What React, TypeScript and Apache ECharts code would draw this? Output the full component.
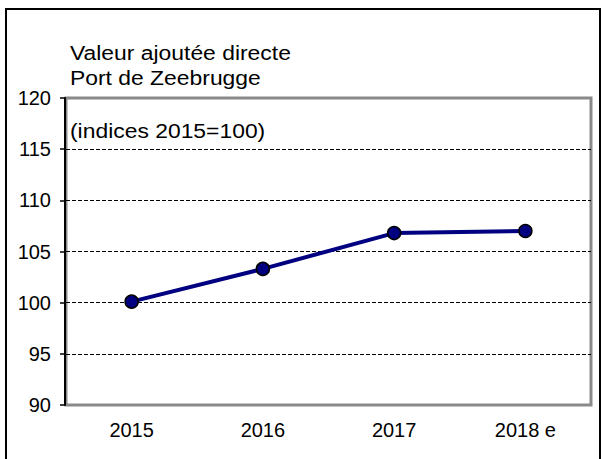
import React, { useEffect, useRef } from "react";
import * as echarts from "echarts";

const categories = ["2015", "2016", "2017", "2018 e"];
const values = [100.1, 103.3, 106.8, 107.0];
const titleLines = ["Valeur ajoutée directe", "Port de Zeebrugge"];
const subtitle = "(indices 2015=100)";

export default function App() {
  const ref = useRef<HTMLDivElement>(null);
  useEffect(() => {
    if (!ref.current) return;
    const chart = echarts.init(ref.current, null, { renderer: "svg" });
    const font = "Arial, 'Liberation Sans', sans-serif";
    const textStyle = (t: string) => ({
      text: t,
      fontSize: 21,
      fontFamily: font,
      fill: "#000",
      verticalAlign: "middle",
    });
    chart.setOption({
      animation: false,
      backgroundColor: "#fff",
      grid: {
        left: 66,
        right: 11,
        top: 98,
        bottom: 54,
        show: true,
        borderColor: "#8a8a8a",
        borderWidth: 3,
        backgroundColor: "transparent",
      },
      graphic: [
        {
          type: "rect",
          shape: { x: 6, y: 9, width: 594, height: 470 },
          style: { fill: "none", stroke: "#000", lineWidth: 2 },
          silent: true,
        },
        { type: "text", x: 70, y: 52.5, scaleX: 1.09, style: textStyle(titleLines[0]) },
        { type: "text", x: 70, y: 78, scaleX: 1.09, style: textStyle(titleLines[1]) },
        { type: "text", x: 70, y: 131, scaleX: 1.09, style: textStyle(subtitle) },
      ],
      xAxis: {
        type: "category",
        data: categories,
        boundaryGap: true,
        axisLine: { show: false },
        axisTick: { show: false },
        axisLabel: { fontSize: 20, fontFamily: font, color: "#000", margin: 15 },
        splitLine: { show: false },
      },
      yAxis: {
        type: "value",
        min: 90,
        max: 120,
        interval: 5,
        axisLine: { show: true, onZero: false, lineStyle: { color: "#000", width: 2 } },
        offset: 1,
        axisTick: { show: true, length: 5, lineStyle: { color: "#000", width: 1.5 } },
        axisLabel: { fontSize: 20, fontFamily: font, color: "#000", margin: 14 },
        splitLine: {
          show: true,
          showMinLine: false,
          showMaxLine: false,
          lineStyle: { color: "#000", width: 1.2, type: [4, 2] },
        },
      },
      series: [
        {
          type: "line",
          data: values,
          symbol: "circle",
          symbolSize: 13,
          lineStyle: { color: "#000080", width: 4 },
          itemStyle: { color: "#000080", borderColor: "#000", borderWidth: 1.5 },
          z: 5,
        },
      ],
    });
    return () => chart.dispose();
  }, []);
  return (
    <div
      ref={ref}
      style={{ position: "absolute", left: 0, top: 0, width: 602, height: 459 }}
    />
  );
}
